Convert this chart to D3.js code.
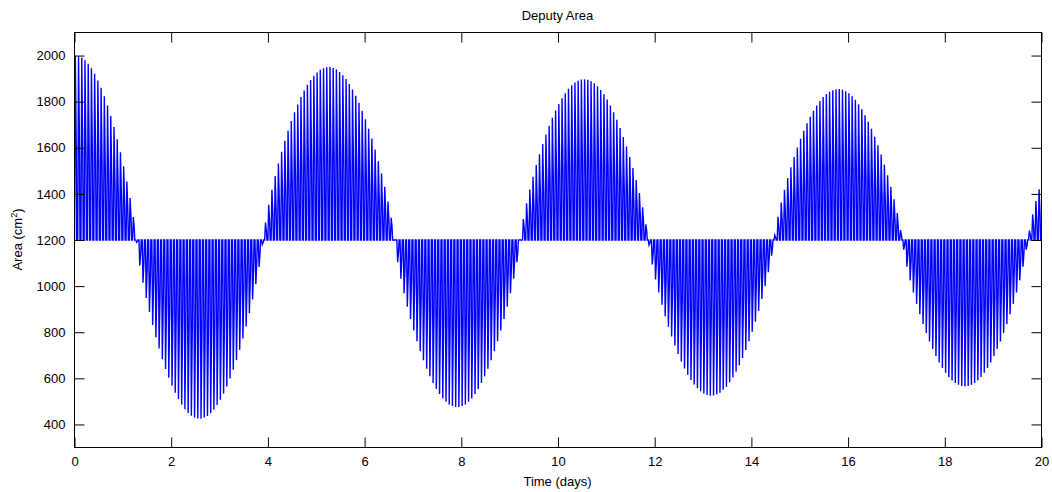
<!DOCTYPE html>
<html>
<head>
<meta charset="utf-8">
<script src="https://cdn.jsdelivr.net/npm/d3@7"></script>
<style>
	body { margin: 0; background: #fff; }
	svg { display: block; font-family: 'Liberation Sans', Arial, sans-serif; }
</style>
</head>
<body>
<div id="chart"></div>
<script>
(function (d3) {
	'use strict';

	var chartTitle = 'Deputy Area';
	var xLabel = 'Time (days)';
	var xTicks = [0, 2, 4, 6, 8, 10, 12, 14, 16, 18, 20];
	var yTicks = [400, 600, 800, 1000, 1200, 1400, 1600, 1800, 2000];
	var xDomain = [0, 20];
	var yDomain = [300, 2100];

	var baseArea = 1200;
	var orbitsPerDay = 15;
	// shape of one orbit: phase in the orbit, share of the orbit's peak offset
	var orbitPhase = [0, 0.25, 0.55, 0.7, 1];
	var orbitLevel = [0, 1, 0.5, 0, 0];

	// peak area of each orbit, one row per day
	var orbitPeaks = [
		2000, 1998, 1991, 1980, 1964, 1945, 1921, 1892, 1860, 1823, 1783, 1738, 1690, 1637, 1581,
		1520, 1454, 1382, 1300, 1190, 1090, 1015, 948, 888, 831, 778, 729, 683, 641, 603,
		568, 537, 510, 486, 466, 450, 438, 430, 426, 425, 430, 437, 449, 465, 484,
		507, 534, 565, 599, 637, 679, 724, 773, 825, 882, 942, 1008, 1083, 1180, 1276,
		1353, 1418, 1477, 1532, 1583, 1630, 1675, 1716, 1754, 1788, 1820, 1848, 1873, 1894, 1912,
		1927, 1938, 1945, 1949, 1950, 1946, 1939, 1929, 1915, 1898, 1877, 1853, 1826, 1795, 1761,
		1724, 1683, 1640, 1593, 1542, 1488, 1431, 1367, 1296, 1200, 1104, 1032, 969, 911, 857,
		808, 761, 718, 678, 642, 609, 580, 554, 532, 513, 498, 487, 480, 476, 476,
		480, 487, 498, 513, 532, 554, 580, 609, 642, 678, 718, 761, 808, 857, 911,
		969, 1032, 1104, 1200, 1291, 1359, 1419, 1474, 1525, 1572, 1616, 1657, 1695, 1730, 1762,
		1790, 1815, 1837, 1856, 1871, 1883, 1891, 1896, 1897, 1895, 1889, 1880, 1867, 1851, 1832,
		1809, 1783, 1754, 1722, 1686, 1647, 1605, 1560, 1512, 1460, 1404, 1342, 1268, 1178, 1094,
		1029, 972, 919, 869, 824, 781, 742, 706, 673, 643, 616, 593, 573, 557, 544,
		534, 528, 525, 526, 531, 538, 550, 564, 583, 604, 629, 657, 688, 723, 761,
		802, 846, 893, 944, 1000, 1060, 1132, 1221, 1301, 1363, 1418, 1469, 1516, 1560, 1601,
		1639, 1674, 1706, 1735, 1761, 1783, 1803, 1820, 1833, 1843, 1850, 1854, 1855, 1852, 1845,
		1836, 1824, 1808, 1789, 1767, 1741, 1713, 1682, 1648, 1611, 1571, 1527, 1481, 1431, 1377,
		1317, 1243, 1158, 1084, 1025, 972, 923, 878, 836, 797, 760, 727, 697, 669, 645,
		624, 606, 591, 580, 572, 567, 565, 567, 572, 580, 591, 606, 624, 645, 669,
		697, 727, 760, 797, 836, 878, 923, 972, 1025, 1084, 1158, 1241, 1312, 1369, 1420,
		1450
	];

	var fullWidth = 1052, fullHeight = 492;
	var margin = {top: 32, right: 11, bottom: 45, left: 74};
	var width = fullWidth - margin.left - margin.right,
		height = fullHeight - margin.top - margin.bottom;
	var tickLen = 10;

	var svg = d3.select('#chart')
		.append('svg')
		.attr('width', fullWidth)
		.attr('height', fullHeight);

	svg.append('rect')
		.attr('width', fullWidth)
		.attr('height', fullHeight)
		.attr('fill', '#fff');

	var g = svg.append('g')
		.attr('transform', 'translate(' + (margin.left + 0.5) + ',' + (margin.top + 0.5) + ')');

	var x = d3.scaleLinear().domain(xDomain).range([0, width]);
	var y = d3.scaleLinear().domain(yDomain).range([height, 0]);

	// build the orbit by orbit polyline
	var points = [];
	orbitPeaks.forEach(function (peak, k) {
		var t0 = k / orbitsPerDay;
		for (var j = 0; j < orbitPhase.length; j++) {
			points.push({
				t: t0 + orbitPhase[j] / orbitsPerDay,
				v: baseArea + (peak - baseArea) * orbitLevel[j]
			});
		}
	});

	svg.append('defs').append('clipPath')
		.attr('id', 'plotClip')
		.append('rect')
		.attr('x', 0)
		.attr('y', 0)
		.attr('width', width)
		.attr('height', height);

	g.append('path')
		.datum(points)
		.attr('clip-path', 'url(#plotClip)')
		.attr('fill', 'none')
		.attr('stroke', '#0000ff')
		.attr('stroke-width', 1.4)
		.attr('stroke-linejoin', 'miter')
		.attr('d', d3.line()
			.x(function (d) { return x(d.t); })
			.y(function (d) { return y(d.v); }));

	function styleAxis(sel) {
		sel.select('.domain').remove();
		sel.selectAll('line').attr('stroke', '#000');
		sel.selectAll('text')
			.attr('fill', '#000')
			.style('font-size', '13px');
	}

	g.append('g')
		.attr('transform', 'translate(0,' + height + ')')
		.call(d3.axisBottom(x).tickValues(xTicks).tickFormat(d3.format('d'))
			.tickSizeInner(-tickLen).tickSizeOuter(0).tickPadding(9))
		.call(styleAxis)
		.attr('font-family', null);

	g.append('g')
		.call(d3.axisTop(x).tickValues(xTicks).tickSizeInner(-tickLen).tickSizeOuter(0).tickFormat(''))
		.call(styleAxis);

	g.append('g')
		.call(d3.axisLeft(y).tickValues(yTicks).tickFormat(d3.format('d'))
			.tickSizeInner(-tickLen).tickSizeOuter(0).tickPadding(9))
		.call(styleAxis)
		.attr('font-family', null);

	g.append('g')
		.attr('transform', 'translate(' + width + ',0)')
		.call(d3.axisRight(y).tickValues(yTicks).tickSizeInner(-tickLen).tickSizeOuter(0).tickFormat(''))
		.call(styleAxis);

	g.append('rect')
		.attr('width', width)
		.attr('height', height)
		.attr('fill', 'none')
		.attr('stroke', '#000')
		.attr('stroke-width', 1);

	svg.append('text')
		.attr('x', margin.left + width / 2)
		.attr('y', 20)
		.attr('text-anchor', 'middle')
		.style('font-size', '13px')
		.text(chartTitle);

	svg.append('text')
		.attr('x', margin.left + width / 2)
		.attr('y', 486)
		.attr('text-anchor', 'middle')
		.style('font-size', '13px')
		.text(xLabel);

	var yText = svg.append('text')
		.attr('transform', 'translate(22,' + (margin.top + height / 2) + ') rotate(-90)')
		.attr('text-anchor', 'middle')
		.style('font-size', '13px');
	yText.append('tspan').text('Area (cm');
	yText.append('tspan').attr('dy', -5).style('font-size', '9px').text('2');
	yText.append('tspan').attr('dy', 5).text(')');
})(d3);
</script>
</body>
</html>
